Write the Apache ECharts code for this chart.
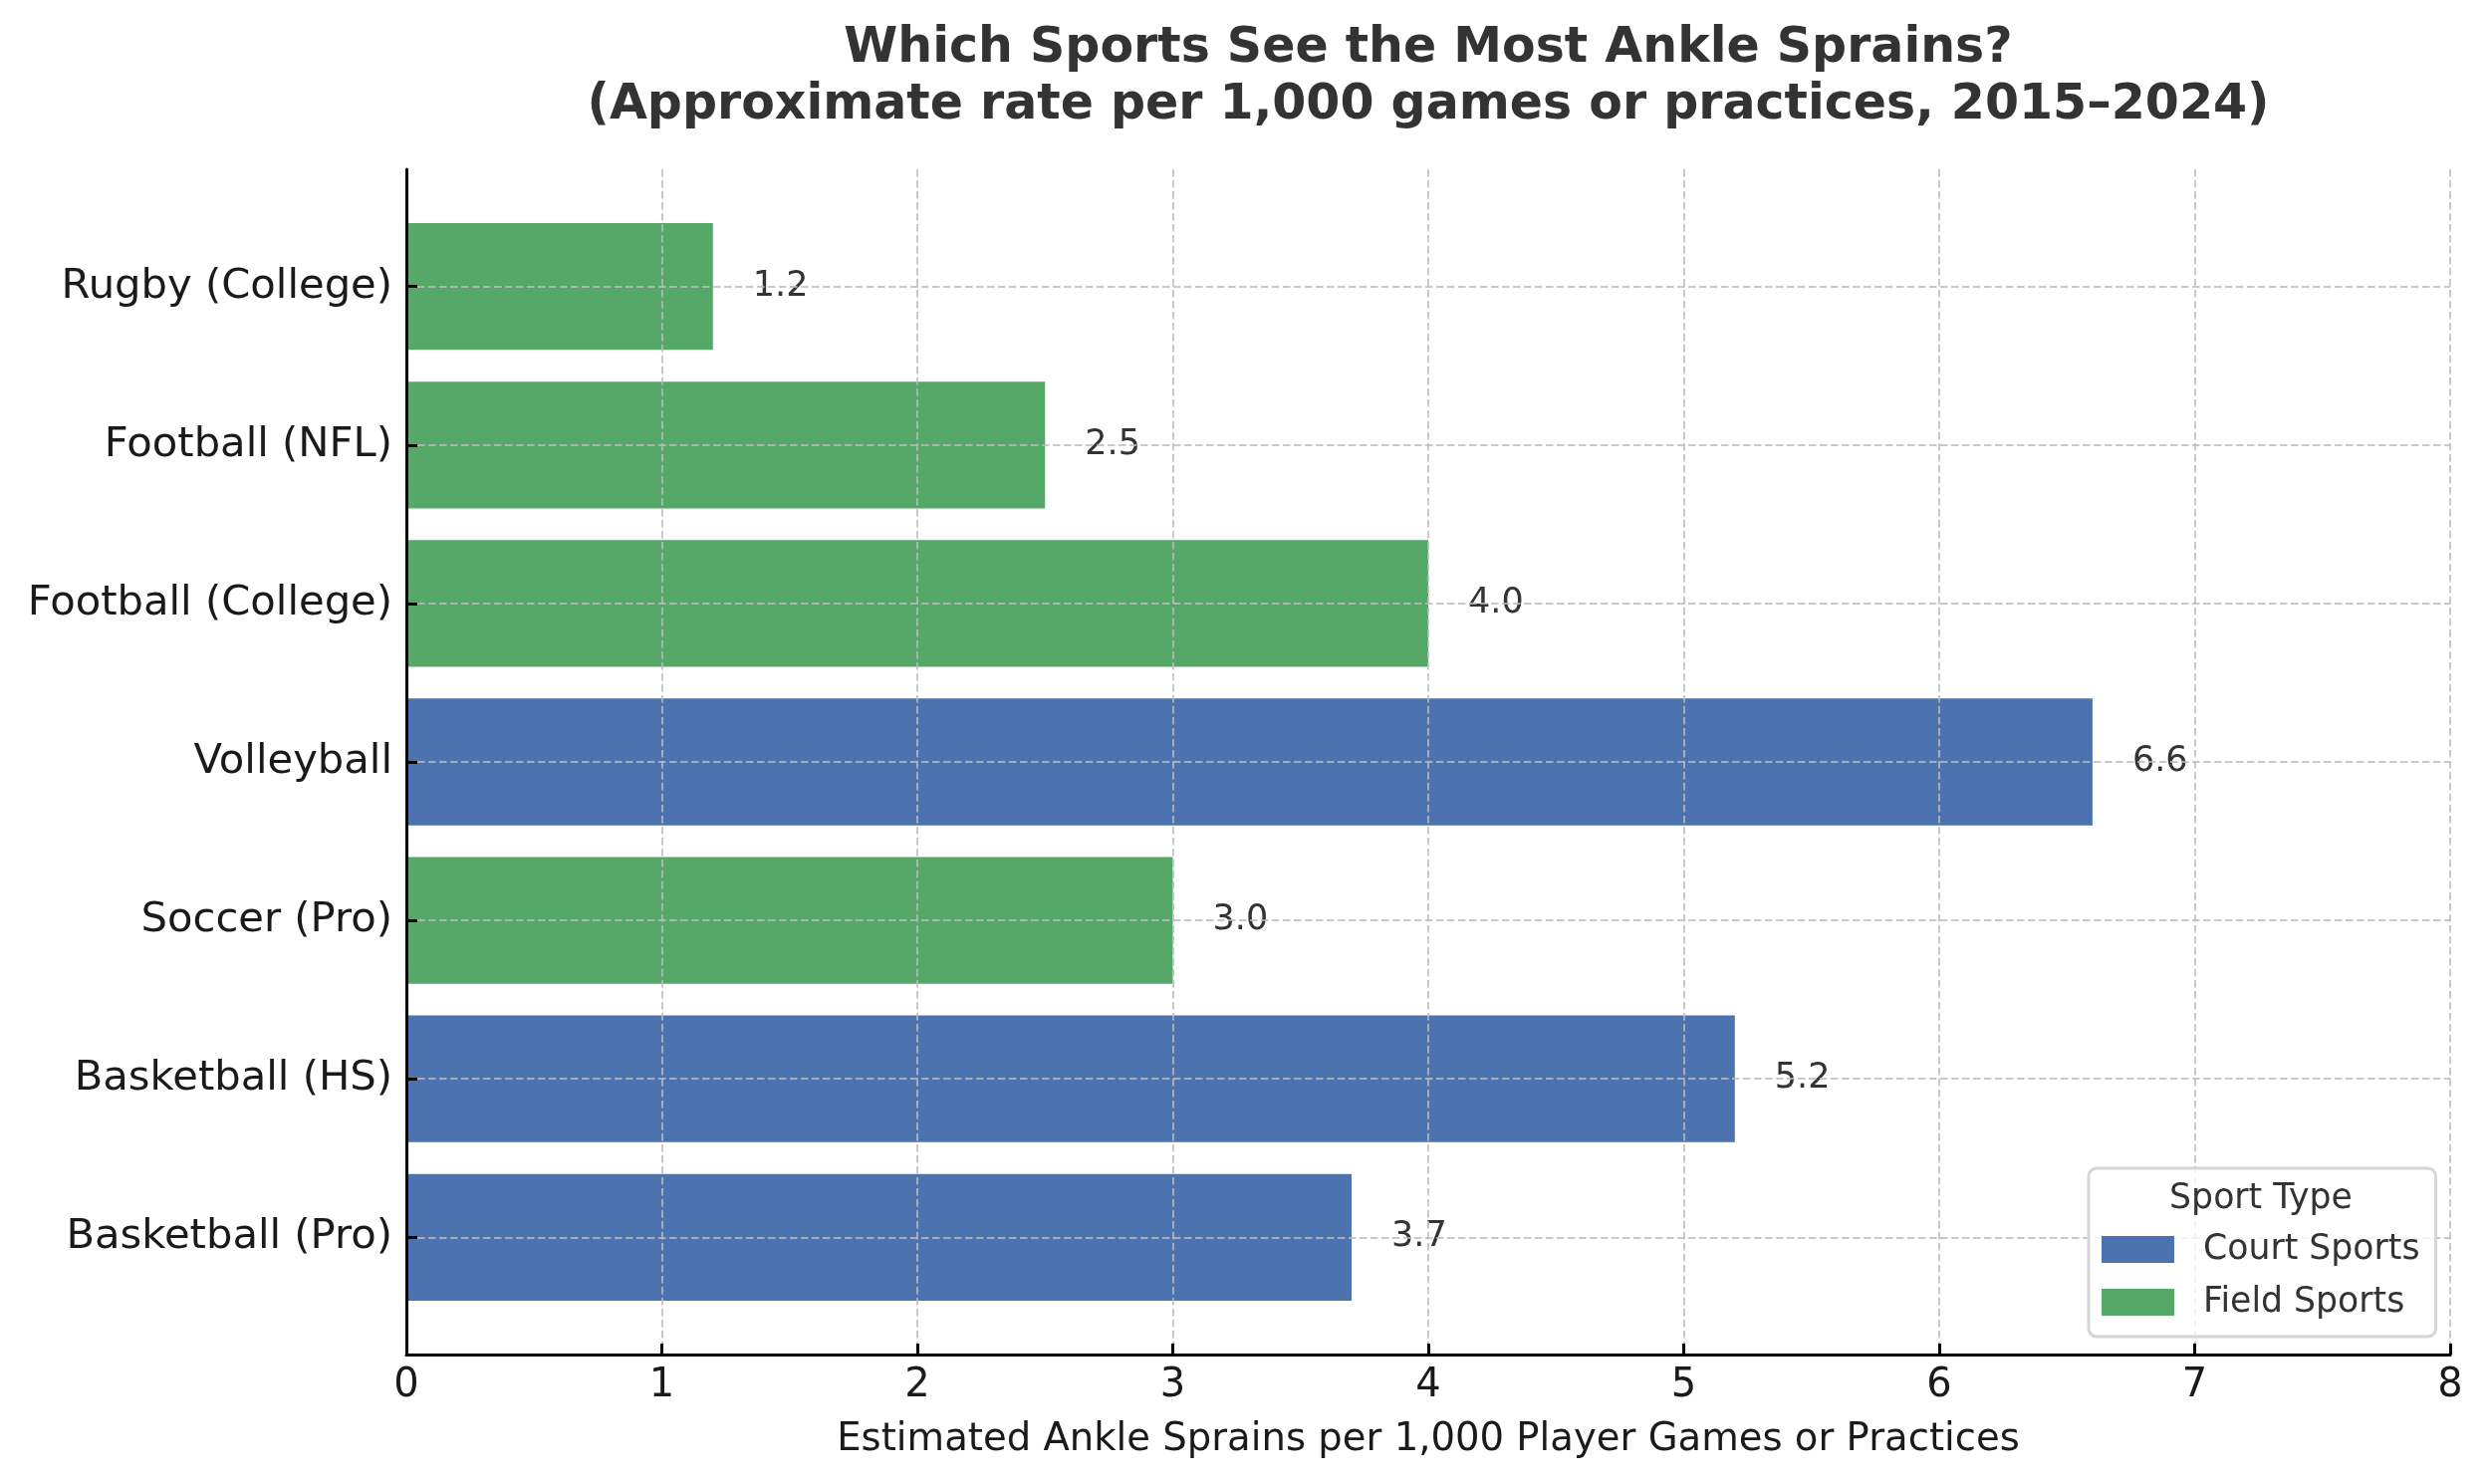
<!DOCTYPE html>
<html>
<head>
<meta charset="utf-8">
<script src="https://cdn.jsdelivr.net/npm/echarts@6/dist/echarts.min.js"></script>
<style>
html,body{margin:0;padding:0;background:#fff;}
#chart{width:2500px;height:1490px;}
</style>
</head>
<body>
<div id="chart"></div>
<script>
// Categories listed bottom -> top
const categories = ['Basketball (Pro)', 'Basketball (HS)', 'Soccer (Pro)', 'Volleyball', 'Football (College)', 'Football (NFL)', 'Rugby (College)'];
const rates = [3.7, 5.2, 3.0, 6.6, 4.0, 2.5, 1.2];
const sportTypes = ['Court Sports', 'Court Sports', 'Field Sports', 'Court Sports', 'Field Sports', 'Field Sports', 'Field Sports'];
const typeNames = ['Court Sports', 'Field Sports'];
const typeColors = {'Court Sports': '#4C72B0', 'Field Sports': '#55A868'};
const xTicks = [0, 8, 1];  // min, max, interval

const FONT = 'DejaVu Sans';
const chart = echarts.init(document.getElementById('chart'), null, {renderer: 'canvas'});

// layout
const axLeft = 408, axRight = 2460, axTop = 170, axBottom = 1360;
const axH = axBottom - axTop;
const span = categories.length + 0.48; // matplotlib margins
const band = axH / span;
const barTop = axTop + 0.24 * band;
const barH = band * categories.length;

const gridLineStyle = {color: 'rgba(187,187,187,0.8)', width: 2, type: [7.5, 3.5]};

const series = typeNames.map(function (t) {
  return {
    name: t,
    type: 'bar',
    xAxisIndex: 1,
    yAxisIndex: 1,
    barWidth: '80%',
    barGap: '-100%',
    itemStyle: {color: typeColors[t]},
    data: rates.map(function (v, i) { return sportTypes[i] === t ? v : '-'; }),
    label: {
      show: true,
      position: 'right',
      distance: 40,
      fontFamily: FONT,
      fontSize: 35,
      color: '#333333',
      formatter: function (p) { return Number(p.value).toFixed(1); }
    },
    z: 2
  };
});
// horizontal grid lines at category centers (drawn above bars)
series.push({
  type: 'line',
  xAxisIndex: 1,
  yAxisIndex: 1,
  data: [],
  silent: true,
  z: 4,
  markLine: {
    silent: true,
    symbol: 'none',
    label: {show: false},
    lineStyle: gridLineStyle,
    data: categories.map(function (c) { return {yAxis: c}; })
  }
});

const option = {
  backgroundColor: '#ffffff',
  animation: false,
  title: [{
    text: 'Which Sports See the Most Ankle Sprains?\n(Approximate rate per 1,000 games or practices, 2015–2024)',
    left: (axLeft + axRight) / 2,
    textAlign: 'center',
    top: 21,
    padding: 0,
    textStyle: {fontFamily: FONT, fontSize: 49, fontWeight: 'bold', color: '#333333', lineHeight: 57}
  }, {
    text: 'Sport Type',
    left: 2270,
    textAlign: 'center',
    top: 1186,
    padding: 0,
    z: 20,
    textStyle: {fontFamily: FONT, fontSize: 34.7, fontWeight: 'normal', color: '#333333'}
  }],
  legend: {
    data: typeNames,
    orient: 'vertical',
    left: 2097,
    top: 1173,
    padding: [64, 16, 17, 13],
    itemWidth: 73,
    itemHeight: 27,
    itemGap: 18,
    icon: 'rect',
    backgroundColor: 'rgba(255,255,255,0.8)',
    borderColor: '#d6d6d6',
    borderWidth: 3,
    borderRadius: 8,
    z: 15,
    textStyle: {fontFamily: FONT, fontSize: 34.7, color: '#333333', padding: [0, 0, 0, 24]}
  },
  grid: [
    {left: axLeft, top: axTop, width: axRight - axLeft, height: axH},
    {left: axLeft, top: barTop, width: axRight - axLeft, height: barH}
  ],
  xAxis: [{
    type: 'value',
    gridIndex: 0,
    min: xTicks[0],
    max: xTicks[1],
    interval: xTicks[2],
    z: 5,
    name: 'Estimated Ankle Sprains per 1,000 Player Games or Practices',
    nameLocation: 'middle',
    nameGap: 66,
    nameTextStyle: {fontFamily: FONT, fontSize: 38.6, color: '#1a1a1a'},
    axisLine: {show: true, onZero: false, lineStyle: {color: '#000', width: 3}},
    axisTick: {show: true, inside: true, length: 11, lineStyle: {color: '#000', width: 3}},
    axisLabel: {fontFamily: FONT, fontSize: 40, color: '#1a1a1a', margin: 12},
    splitLine: {show: true, lineStyle: gridLineStyle}
  }, {
    type: 'value',
    gridIndex: 1,
    min: xTicks[0],
    max: xTicks[1],
    show: false
  }],
  yAxis: [{
    type: 'value',
    gridIndex: 0,
    min: 0,
    max: 1,
    z: 5,
    axisLine: {show: true, onZero: false, lineStyle: {color: '#000', width: 3}},
    axisTick: {show: false},
    axisLabel: {show: false},
    splitLine: {show: false}
  }, {
    type: 'category',
    gridIndex: 1,
    data: categories,
    z: 5,
    axisLine: {show: false},
    axisTick: {show: true, inside: true, alignWithLabel: true, length: 11, lineStyle: {color: '#000', width: 3}},
    axisLabel: {fontFamily: FONT, fontSize: 41.7, color: '#1a1a1a', margin: 14},
    splitLine: {show: false}
  }],
  series: series
};
chart.setOption(option);
</script>
</body>
</html>
